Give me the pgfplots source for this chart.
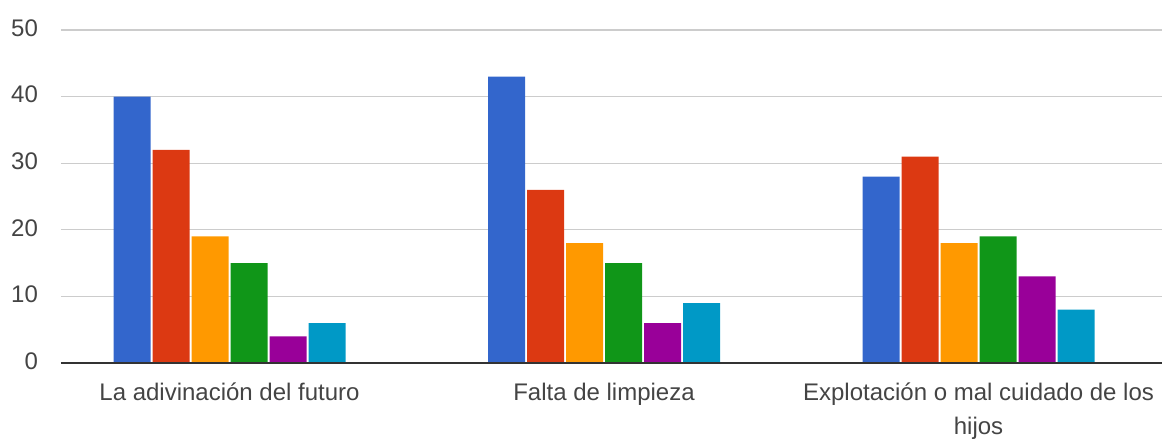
\documentclass[border=0pt]{standalone}
\usepackage{pgfplots}
\pgfplotsset{compat=1.18}
\usepackage{fontspec}
\setmainfont{Liberation Sans}
\definecolor{c1}{HTML}{3366CC}
\definecolor{c2}{HTML}{DC3912}
\definecolor{c3}{HTML}{FF9900}
\definecolor{c4}{HTML}{109618}
\definecolor{c5}{HTML}{990099}
\definecolor{c6}{HTML}{0099C6}
\definecolor{gridc}{HTML}{CCCCCC}
\definecolor{txt}{HTML}{444444}
\begin{document}
\begin{tikzpicture}
\begin{axis}[
  scale only axis,
  width=550.5pt, height=166.5pt,
  ybar, bar width=18.5pt, ybar=1pt,
  xmin=-0.45, xmax=2.49,
  ymin=0, ymax=50,
  ytick={0,10,20,30,40,50},
  xtick=data,
  xticklabels={La adivinación del futuro, Falta de limpieza, {Explotación o mal cuidado de los\\hijos}},
  xticklabel style={align=center, text=txt, font=\fontsize{12}{17}\selectfont, yshift=-6.5pt},
  yticklabel style={text=txt, font=\fontsize{12}{14}\selectfont, xshift=-8pt, yshift=1pt},
  /pgf/number format/assume math mode=true,
  major tick length=0pt,
  axis line style={draw=none},
  ymajorgrids, grid style={gridc, line width=0.6pt},
  axis x line*=bottom, axis y line*=left,
  clip=false,
]
\addplot[fill=c1, draw=none] coordinates {(0,40) (1,43) (2,28)};
\addplot[fill=c2, draw=none] coordinates {(0,32) (1,26) (2,31)};
\addplot[fill=c3, draw=none] coordinates {(0,19) (1,18) (2,18)};
\addplot[fill=c4, draw=none] coordinates {(0,15) (1,15) (2,19)};
\addplot[fill=c5, draw=none] coordinates {(0,4) (1,6) (2,13)};
\addplot[fill=c6, draw=none] coordinates {(0,6) (1,9) (2,8)};
\draw[color=black!80, line width=0.9pt] (axis cs:-0.45,0) -- (axis cs:2.49,0);
\end{axis}
\pgfresetboundingbox
\useasboundingbox (-30.5pt,-38pt) rectangle (552.5pt,181.5pt);
\end{tikzpicture}
\end{document}
